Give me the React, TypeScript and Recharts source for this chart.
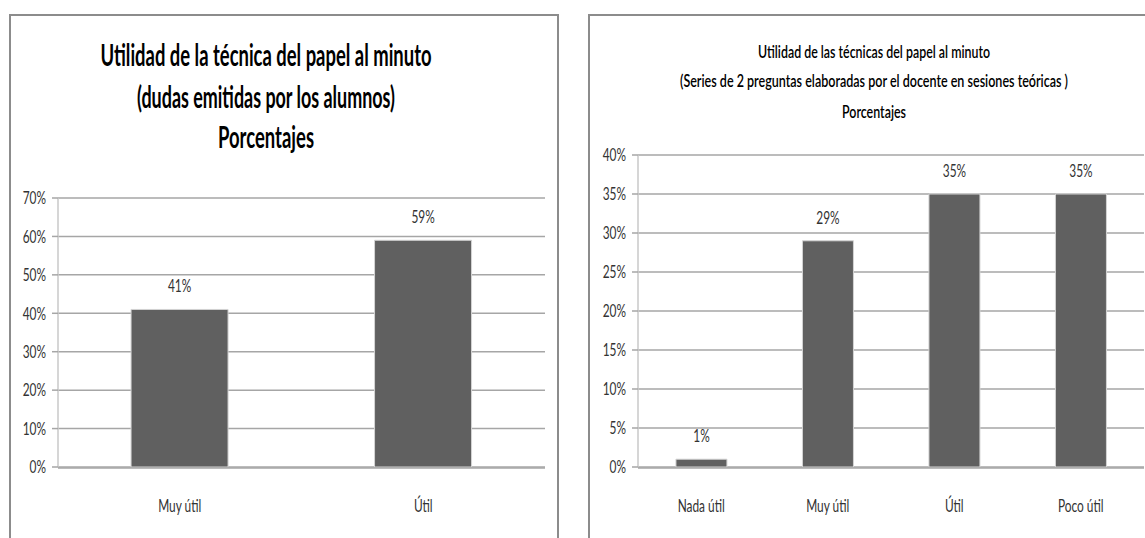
import React from 'react';
import { BarChart, Bar, XAxis, YAxis, CartesianGrid, LabelList } from 'recharts';

// left chart
const leftCategories = ['Muy útil', 'Útil'];
const leftValues = [41, 59];
const leftTicks = [0, 10, 20, 30, 40, 50, 60, 70];
const leftTitle = [
  'Utilidad de la técnica del papel al minuto',
  '(dudas emitidas por los alumnos)',
  'Porcentajes',
];

// right chart
const rightCategories = ['Nada útil', 'Muy útil', 'Útil', 'Poco útil'];
const rightValues = [1, 29, 35, 35];
const rightTicks = [0, 5, 10, 15, 20, 25, 30, 35, 40];
const rightTitle = [
  'Utilidad de las técnicas del papel al minuto',
  '(Series de 2 preguntas elaboradas por el docente en sesiones teóricas )',
  'Porcentajes',
];

const SQ = 0.68;
const FONT = 'Lato, "Open Sans", sans-serif';
const GRID = '#a6a6a6';
const TEXT = '#333';

const SqText = ({ x, y, anchor, dy, children }: any) => (
  <text
    transform={`translate(${x},${y}) scale(${SQ},1)`}
    textAnchor={anchor}
    dy={dy}
    fontSize={17.5}
    fontFamily={FONT}
    fill={TEXT}
  >
    {children}
  </text>
);

const YTick = ({ x, y, payload }: any) => (
  <SqText x={x - 4} y={y} anchor="end" dy="0.36em">{`${payload.value}%`}</SqText>
);

// labels sit well below the thin category axis
const XTick = ({ x, y, payload }: any) => (
  <SqText x={x} y={y + 37} anchor="middle">{payload.value}</SqText>
);

const BarLabel = ({ x, y, width, value }: any) => (
  <SqText x={x + width / 2} y={y - 17} anchor="middle">{`${value}%`}</SqText>
);

interface PanelProps {
  categories: string[];
  values: number[];
  ticks: number[];
  left: number;
  width: number;
  top: number;
  right: number;
}

const Panel = ({ categories, values, ticks, left, width, top, right }: PanelProps) => {
  const data = categories.map((name, i) => ({ name, value: values[i] }));
  const edges = categories.map((_, i) => i).concat(categories.length);
  return (
    <div style={{ position: 'absolute', left, top: 0 }}>
      <BarChart
        width={width}
        height={538}
        data={data}
        margin={{ top, right, left: 0, bottom: 0 }}
        barCategoryGap="30%"
      >
        <CartesianGrid xAxisId="cat" vertical={false} stroke={GRID} strokeWidth={1.5} />
        <XAxis
          xAxisId="cat"
          dataKey="name"
          height={1}
          axisLine={false}
          tickLine={false}
          tick={<XTick />}
          interval={0}
        />
        <XAxis
          xAxisId="edge"
          type="number"
          domain={[0, categories.length]}
          ticks={edges}
          allowDataOverflow
          height={70}
          tick={false}
          tickSize={6}
          tickLine={{ stroke: GRID, strokeWidth: 1.5 }}
          axisLine={{ stroke: GRID, strokeWidth: 1.5 }}
        />
        <YAxis
          width={58}
          domain={[0, ticks[ticks.length - 1]]}
          ticks={ticks}
          interval={0}
          tickSize={6}
          tickLine={{ stroke: GRID, strokeWidth: 1.5 }}
          axisLine={{ stroke: '#c8c8c8', strokeWidth: 1.5 }}
          tick={<YTick />}
        />
        <Bar
          xAxisId="cat"
          dataKey="value"
          fill="#606060"
          stroke="#d4d4d4"
          strokeWidth={1}
          isAnimationActive={false}
        >
          <LabelList dataKey="value" content={<BarLabel />} />
        </Bar>
      </BarChart>
    </div>
  );
};

const Title = ({ lines, cx, ys, size, widths, weight }: any) => (
  <>
    {lines.map((t: string, i: number) => (
      <text
        key={i}
        x={cx}
        y={ys[i]}
        textAnchor="middle"
        fontSize={size}
        fontWeight={weight}
        fontFamily={FONT}
        fill="#000"
        textLength={widths[i]}
        lengthAdjust="spacingAndGlyphs"
      >
        {t}
      </text>
    ))}
  </>
);

export default function App() {
  return (
    <div
      style={{
        position: 'absolute',
        left: 0,
        top: 0,
        width: 1145,
        height: 538,
        overflow: 'hidden',
        background: '#fff',
      }}
    >
      <Panel categories={leftCategories} values={leftValues} ticks={leftTicks} left={0} width={560} top={198} right={15} />
      <Panel categories={rightCategories} values={rightValues} ticks={rightTicks} left={580} width={565} top={155} right={1} />
      <svg
        width={1145}
        height={538}
        style={{ position: 'absolute', left: 0, top: 0, pointerEvents: 'none' }}
      >
        <polyline points="10,560 10,15 558,15 558,560" fill="none" stroke="#8c8c8c" strokeWidth={2} />
        <polyline points="589,560 589,15 1160,15" fill="none" stroke="#8c8c8c" strokeWidth={2} />
        <Title lines={leftTitle} cx={266} ys={[66, 108, 148]} size={30} weight={700} widths={[331, 258, 96]} />
        <Title lines={rightTitle} cx={874} ys={[58, 87, 118]} size={17} weight={600} widths={[232, 388, 64]} />
      </svg>
    </div>
  );
}
